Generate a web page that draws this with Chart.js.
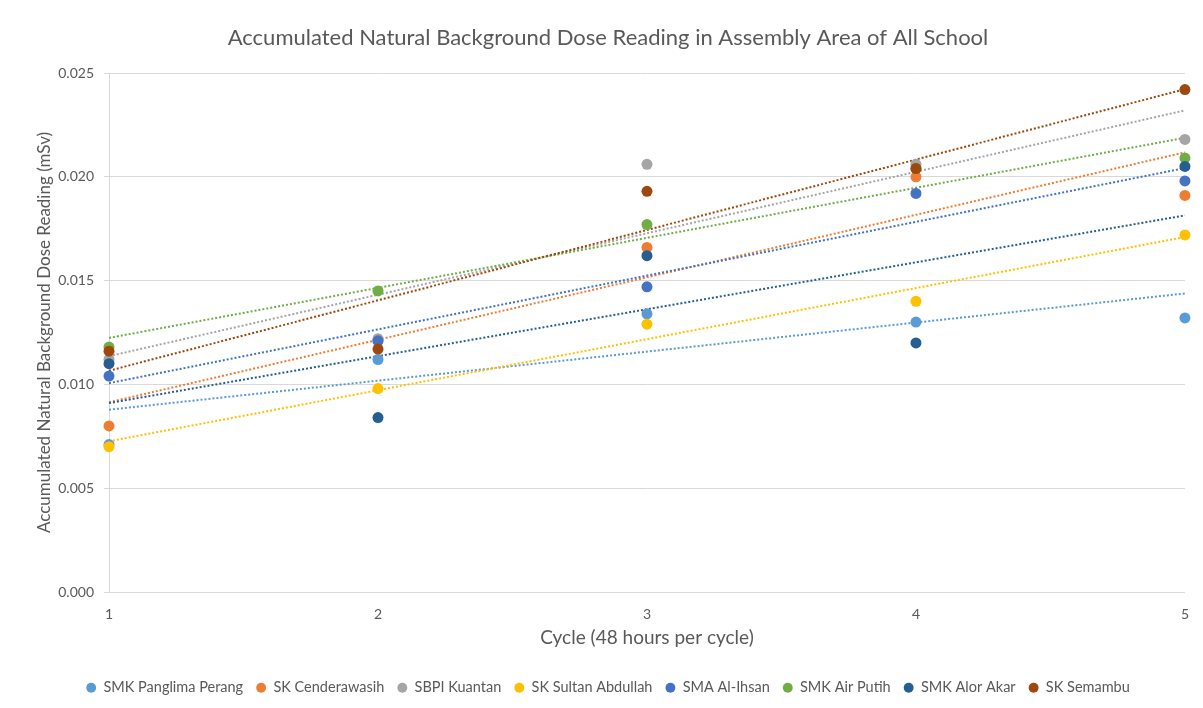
<!DOCTYPE html>
<html>
<head>
<meta charset="utf-8">
<script src="https://cdn.jsdelivr.net/npm/chart.js@4/dist/chart.umd.min.js"></script>
<style>
  html, body { margin: 0; padding: 0; background: #ffffff; }
  #wrap { width: 1203px; height: 708px; position: relative; }
</style>
</head>
<body>
<div id="wrap"><canvas id="chart"></canvas></div>
<script>
// Cycle numbers (48 hours per cycle)
const cycles = [1, 2, 3, 4, 5];

// Accumulated dose per school (mSv)
const smkPanglimaPerang = [0.0071, 0.0112, 0.0134, 0.0130, 0.0132];
const skCenderawasih    = [0.0080, 0.0121, 0.0166, 0.0200, 0.0191];
const sbpiKuantan       = [0.0112, 0.0122, 0.0206, 0.0206, 0.0218];
const skSultanAbdullah  = [0.0070, 0.0098, 0.0129, 0.0140, 0.0172];
const smaAlIhsan        = [0.0104, 0.0121, 0.0147, 0.0192, 0.0198];
const smkAirPutih       = [0.0118, 0.0145, 0.0177, 0.0204, 0.0209];
const smkAlorAkar       = [0.0110, 0.0084, 0.0162, 0.0120, 0.0205];
const skSemambu         = [0.0116, 0.0117, 0.0193, 0.0204, 0.0242];

const schoolNames = [
  'SMK Panglima Perang', 'SK Cenderawasih', 'SBPI Kuantan', 'SK Sultan Abdullah',
  'SMA Al-Ihsan', 'SMK Air Putih', 'SMK Alor Akar', 'SK Semambu'
];
const schoolSeries = [
  smkPanglimaPerang, skCenderawasih, sbpiKuantan, skSultanAbdullah,
  smaAlIhsan, smkAirPutih, smkAlorAkar, skSemambu
];

// y-axis tick values
const yTicks = [0.000, 0.005, 0.010, 0.015, 0.020, 0.025];

const palette = ['#5B9BD5', '#ED7D31', '#A5A5A5', '#FFC000', '#4472C4', '#70AD47', '#255E91', '#9E480E'];
const textColor = '#595959';
const FONT = 'Lato, "Open Sans", sans-serif';

// Least-squares linear trend through a series, evaluated at the first and last cycle
function trend(xs, ys) {
  const n = xs.length;
  const mx = xs.reduce((a, b) => a + b, 0) / n;
  const my = ys.reduce((a, b) => a + b, 0) / n;
  let sxy = 0, sxx = 0;
  for (let i = 0; i < n; i++) {
    sxy += (xs[i] - mx) * (ys[i] - my);
    sxx += (xs[i] - mx) * (xs[i] - mx);
  }
  const slope = sxy / sxx;
  const x0 = xs[0], x1 = xs[n - 1];
  return [
    { x: x0, y: my + slope * (x0 - mx) },
    { x: x1, y: my + slope * (x1 - mx) }
  ];
}

const n = schoolNames.length;
const datasets = [];
// Markers: later series drawn on top of earlier ones
schoolNames.forEach((name, i) => {
  datasets.push({
    type: 'scatter',
    label: name,
    data: cycles.map((c, k) => ({ x: c, y: schoolSeries[i][k] })),
    backgroundColor: palette[i],
    borderColor: palette[i],
    borderWidth: 0,
    pointRadius: 5.5,
    pointHoverRadius: 5.5,
    clip: false,
    order: n - i
  });
});
// Dotted linear trendlines beneath the markers
schoolNames.forEach((name, i) => {
  datasets.push({
    type: 'line',
    label: name + ' trend',
    isTrend: true,
    data: trend(cycles, schoolSeries[i]),
    borderColor: palette[i],
    borderWidth: 2,
    borderDash: [2, 2],
    borderCapStyle: 'butt',
    pointRadius: 0,
    fill: false,
    clip: false,
    order: 100 - i
  });
});

new Chart(document.getElementById('chart'), {
  type: 'scatter',
  data: { datasets },
  options: {
    responsive: true,
    maintainAspectRatio: false,
    animation: false,
    events: [],
    layout: { padding: { left: 31, right: 18, top: 0, bottom: 3 } },
    plugins: {
      title: {
        display: true,
        text: 'Accumulated Natural Background Dose Reading in Assembly Area of All School',
        color: textColor,
        font: { family: FONT, size: 22, weight: 'normal' },
        padding: { top: 24.8, bottom: 21.8 }
      },
      legend: {
        position: 'bottom',
        labels: {
          filter: (item, data) => !data.datasets[item.datasetIndex].isTrend,
          sort: (a, b) => a.datasetIndex - b.datasetIndex,
          usePointStyle: true,
          pointStyle: 'circle',
          boxWidth: 10,
          boxHeight: 7,
          padding: 13,
          color: textColor,
          font: { family: FONT, size: 14.5 }
        }
      },
      tooltip: { enabled: false }
    },
    scales: {
      x: {
        type: 'linear',
        min: 1,
        max: 5,
        afterBuildTicks: (scale) => { scale.ticks = cycles.map(v => ({ value: v })); },
        grid: { display: false, drawTicks: false },
        border: { display: true, color: '#D9D9D9', width: 1 },
        ticks: {
          color: textColor,
          font: { family: FONT, size: 14 },
          padding: 14,
          callback: (v) => String(v)
        },
        title: {
          display: true,
          text: 'Cycle (48 hours per cycle)',
          color: textColor,
          font: { family: FONT, size: 19 },
          padding: { top: 0, bottom: 18 }
        },
        afterFit: (scale) => { scale.height = 75.5; }
      },
      y: {
        type: 'linear',
        min: 0,
        max: 0.025,
        afterBuildTicks: (scale) => { scale.ticks = yTicks.map(v => ({ value: v })); },
        grid: { color: '#D9D9D9', lineWidth: 1, drawTicks: true, tickLength: 5 },
        border: { display: true, color: '#D9D9D9', width: 1 },
        ticks: {
          color: textColor,
          font: { family: FONT, size: 14 },
          padding: 10,
          callback: (v) => Number(v).toFixed(3)
        },
        title: {
          display: true,
          text: 'Accumulated Natural Background Dose Reading (mSv)',
          color: textColor,
          font: { family: FONT, size: 17 },
          padding: { top: 3.8, bottom: 0 }
        },
        afterFit: (scale) => { scale.width = 78; }
      }
    }
  }
});
</script>
</body>
</html>
